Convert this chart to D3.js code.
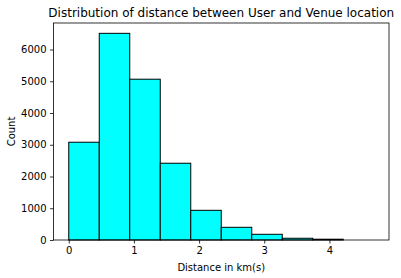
<!DOCTYPE html>
<meta charset="utf-8">
<style>
body { margin: 0; background: #fff; }
text { font-family: "DejaVu Sans", sans-serif; }
</style>
<svg width="401" height="278"></svg>
<script src="https://d3js.org/d3.v7.min.js"></script>
<script>

// histogram bin edges (km) and counts
var binEdges = [0, 0.468, 0.936, 1.404, 1.872, 2.34, 2.808, 3.276, 3.744, 4.212, 4.68];
var counts = [3080, 6510, 5065, 2418, 935, 400, 180, 55, 25, 0];
var xTicks = [0, 1, 2, 3, 4];
var yTicks = [0, 1000, 2000, 3000, 4000, 5000, 6000];

var svg = d3.select("svg");

// plot area edges
var plotL = 53.5, plotR = 389, plotT = 23, plotB = 240;

var xmax = binEdges[binEdges.length - 1];
var x = d3.scaleLinear()
    .domain([-0.05 * xmax, 1.05 * xmax])
    .range([plotL, plotR]);

var ymax = d3.max(counts) * 1.05;
var y = d3.scaleLinear()
    .domain([0, ymax])
    .range([plotB, plotT]);

var bins = counts.map(function(c, i) { return {x0: binEdges[i], x1: binEdges[i + 1], n: c}; })
    .filter(function(d) { return d.n > 0; });

// bars
svg.append("g")
  .selectAll("rect")
  .data(bins)
  .enter().append("rect")
    .attr("x", function(d) { return x(d.x0); })
    .attr("width", function(d) { return x(d.x1) - x(d.x0); })
    .attr("y", function(d) { return y(d.n); })
    .attr("height", function(d) { return y(0) - y(d.n); })
    .attr("fill", "#00ffff")
    .attr("stroke", "#000")
    .attr("stroke-width", 1);

// axes
var xAxis = svg.append("g")
    .attr("transform", "translate(0," + plotB + ")")
    .call(d3.axisBottom(x).tickValues(xTicks).tickSize(3.5).tickPadding(3.5).tickFormat(d3.format("d")));

var yAxis = svg.append("g")
    .attr("transform", "translate(" + plotL + ",0)")
    .call(d3.axisLeft(y).tickValues(yTicks).tickSize(3.5).tickPadding(3.5).tickFormat(d3.format("d")));

[xAxis, yAxis].forEach(function(a) {
  a.select(".domain").remove();
  a.selectAll("text").attr("font-size", 10).attr("fill", "#000").style("font-family", "DejaVu Sans");
  a.selectAll("line").attr("stroke", "#000").attr("stroke-width", 0.8);
});

// frame
svg.append("rect")
    .attr("x", plotL)
    .attr("y", plotT)
    .attr("width", plotR - plotL)
    .attr("height", plotB - plotT)
    .attr("fill", "none")
    .attr("stroke", "#000")
    .attr("stroke-width", 0.8);

// title and labels
svg.append("text")
    .attr("x", (plotL + plotR) / 2)
    .attr("y", 17)
    .attr("text-anchor", "middle")
    .attr("font-size", 12)
    .text("Distribution of distance between User and Venue location");

svg.append("text")
    .attr("x", (plotL + plotR) / 2)
    .attr("y", 271)
    .attr("text-anchor", "middle")
    .attr("font-size", 10)
    .text("Distance in km(s)");

svg.append("text")
    .attr("transform", "translate(14.5," + (plotT + plotB) / 2 + ") rotate(-90)")
    .attr("text-anchor", "middle")
    .attr("font-size", 10)
    .text("Count");

</script>
